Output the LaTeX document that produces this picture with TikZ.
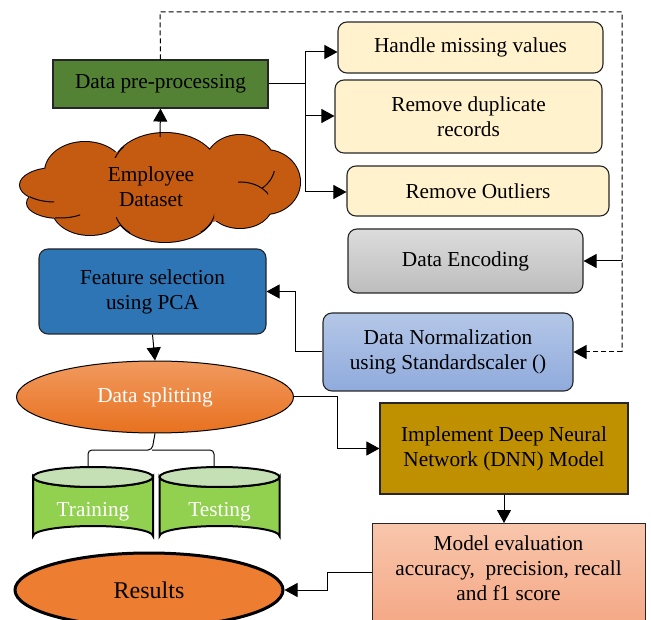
\documentclass[tikz,border=0pt]{standalone}
\usepackage{fontspec}
\setmainfont{Liberation Serif}
\usetikzlibrary{shapes.geometric,arrows.meta}

\definecolor{preGreen}{HTML}{548235}
\definecolor{cream}{HTML}{FFF2CC}
\definecolor{encTop}{HTML}{DCDCDC}
\definecolor{encBot}{HTML}{BDBDBD}
\definecolor{normTop}{HTML}{B4C7E7}
\definecolor{normBot}{HTML}{8FAADC}
\definecolor{featBlue}{HTML}{2E75B6}
\definecolor{splitTop}{HTML}{F19A5F}
\definecolor{splitBot}{HTML}{E8711F}
\definecolor{cylBody}{HTML}{92D050}
\definecolor{cylTop}{HTML}{C5E0B4}
\definecolor{resOrange}{HTML}{ED7D31}
\definecolor{dnnGold}{HTML}{BF9000}
\definecolor{evalTop}{HTML}{F8C6AC}
\definecolor{evalBot}{HTML}{F4A27E}
\definecolor{cloudOrange}{HTML}{C55A11}

\tikzset{
  base/.style={draw=black!85, line width=1.1pt, align=center, inner sep=0pt,
    font=\fontsize{21.3}{25}\selectfont},
  sqbox/.style={base, rectangle},
  rbox/.style={base, rectangle, rounded corners=9pt},
  conn/.style={line width=1pt, draw=black},
  arr/.style={conn, -{Triangle[length=13pt,width=14pt]}},
  dashline/.style={conn, dash pattern=on 5pt off 3pt},
}

% lobes of the cloud, one macro each so creases can reuse them
\def\lobeA{(85,172) ellipse[x radius=40, y radius=30]}
\def\lobeB{(165,168) ellipse[x radius=52, y radius=35]}
\def\lobeC{(240,165) ellipse[x radius=35, y radius=30]}
\def\lobeD{(265,182) ellipse[x radius=35, y radius=32]}
\def\lobeE{(240,205) ellipse[x radius=32, y radius=23]}
\def\lobeF{(165,210) ellipse[x radius=50, y radius=32]}
\def\lobeG{(90,208) ellipse[x radius=38, y radius=27]}
\def\lobeH{(55,185) ellipse[x radius=35, y radius=17]}
\def\lobeI{(60,203) ellipse[x radius=33, y radius=15]}
\newcommand\crease[2]{\begin{scope}\clip #1; \draw[black, line width=1pt] #2; \end{scope}}

\begin{document}
\begin{tikzpicture}[x=1pt,y=-1pt]
\useasboundingbox (0,0) rectangle (651,620);
\clip (0,0) rectangle (651,620);

% cloud: outline pass, then fill pass, then the inner creases
\draw[black, line width=2pt] \lobeA \lobeB \lobeC \lobeD \lobeE \lobeF \lobeG \lobeH \lobeI;
\fill[cloudOrange] \lobeA \lobeB \lobeC \lobeD \lobeE \lobeF \lobeG \lobeH \lobeI
  (160,188) ellipse[x radius=100, y radius=40];
\crease{(108,143) rectangle (124,158)}{\lobeB}
\crease{(262,172) rectangle (288,190)}{\lobeC}
\crease{(238,180) rectangle (268,200)}{\lobeE}
\crease{(30,190) rectangle (54,205)}{\lobeH}
\crease{(55,210) rectangle (80,222)}{\lobeI}
\crease{(116,218) rectangle (130,235)}{\lobeF}
\crease{(200,212) rectangle (214,232)}{\lobeF}
\node[align=center, font=\fontsize{21.3}{25}\selectfont] (cloud) at (151,187) {Employee\\Dataset};
\coordinate (cloudTop) at (160,137);

% preprocessing chain
\node[sqbox, fill=preGreen, minimum width=215pt, minimum height=48pt] (pre) at (160.5,84) {Data pre-processing};
\node[rbox, fill=cream, minimum width=265pt, minimum height=51pt] (hmv) at (470.5,47.5) {Handle missing values};
\node[rbox, fill=cream, minimum width=267pt, minimum height=73pt] (rdr) at (468.5,116.5) {Remove duplicate\\records};
\node[rbox, fill=cream, minimum width=262pt, minimum height=50pt] (rout) at (478,191) {Remove Outliers};
\node[rbox, top color=encTop, bottom color=encBot, minimum width=235pt, minimum height=64pt] (enc) at (465.5,261) {Data Encoding};
\node[rbox, top color=normTop, bottom color=normBot, minimum width=250pt, minimum height=78pt] (norm) at (448,352) {Data Normalization\\using Standardscaler ()};
\node[rbox, fill=featBlue, minimum width=227pt, minimum height=85pt] (feat) at (152.5,291.5) {Feature selection\\using PCA};

% splitting and model
\node[base, ellipse, draw=black, line width=1pt, top color=splitTop, bottom color=splitBot,
      minimum width=277pt, minimum height=72pt, text=white] (split) at (155,397) {Data splitting};
\node[sqbox, fill=dnnGold, minimum width=248pt, minimum height=91pt] (dnn) at (504,448.5) {Implement Deep Neural\\Network (DNN) Model};
\node[sqbox, top color=evalTop, bottom color=evalBot, minimum width=273pt, minimum height=120pt,
      anchor=north west] (eval) at (372,523) {};
\node[align=center, font=\fontsize{21.3}{25}\selectfont, anchor=north] (evaltext) at (508.5,532)
  {Model evaluation\\accuracy,\ \ precision, recall\\and f1 score};
\node[base, ellipse, draw=black, line width=3pt, fill=resOrange, minimum width=268pt, minimum height=74pt,
      font=\fontsize{24}{28}\selectfont] (res) at (149,590) {Results};

% data stores
\foreach \nm/\cx/\lab in {train/93/Training, test/219.5/Testing}{
  \begin{scope}[shift={(\cx,0)}]
    \path[draw=black, line width=2pt, fill=cylBody]
      (-60,477) -- (-60,536) arc[start angle=180, end angle=360, x radius=60, y radius=10]
      -- (60,477) arc[start angle=0, end angle=180, x radius=60, y radius=10] -- cycle;
    \path[draw=black, line width=2pt, fill=cylTop] (0,477) ellipse[x radius=60, y radius=10];
  \end{scope}
  \node[font=\fontsize{21.3}{25}\selectfont, text=white] (\nm) at (\cx,512) {\lab};
}
\coordinate (trainTop) at (88,467);
\coordinate (testTop) at (214,467);

% connectors
\draw[arr] (cloudTop) -- (pre.south);
\coordinate (trunkTop) at (305,52);
\coordinate (trunkBot) at (305,192);
\draw[conn] (pre.east) -- (pre.east -| trunkTop);
\draw[conn] (trunkTop) -- (trunkBot);
\draw[arr] (trunkTop) -- (hmv.west |- trunkTop);
\draw[arr] (305,116) -- (rdr.west |- 305,116);
\draw[arr] (trunkBot) -- (rout.west |- trunkBot);

\coordinate (dashTL) at (160,12);
\coordinate (dashTR) at (622,12);
\coordinate (dashBR) at (622,352);
\draw[dashline] (pre.north) -- (dashTL) -- (dashTR) -- (dashBR);
\draw[arr, dash pattern=on 5pt off 3pt] (dashBR) -- (norm.east);
\draw[arr] (622,261) -- (enc.east);

\coordinate (nf) at (295,352);
\draw[arr] (norm.west) -- (nf) |- (feat.east);
\draw[arr] (feat.south) -- (split.north);

\coordinate (sd) at (337,397);
\draw[arr] (split.east) -- (sd) |- (dnn.west);
\draw[arr] (dnn.south) -- (dnn.south |- eval.north);

\coordinate (er) at (327,572);
\draw[arr] (eval.west |- er) -- (er) |- (res.east);

% split bracket
\draw[conn, rounded corners=4pt] (trainTop) -- (88,450) -- (152,450) -- (split.south);
\draw[conn, rounded corners=4pt] (testTop) -- (214,450) -- (152,450);
\end{tikzpicture}
\end{document}
